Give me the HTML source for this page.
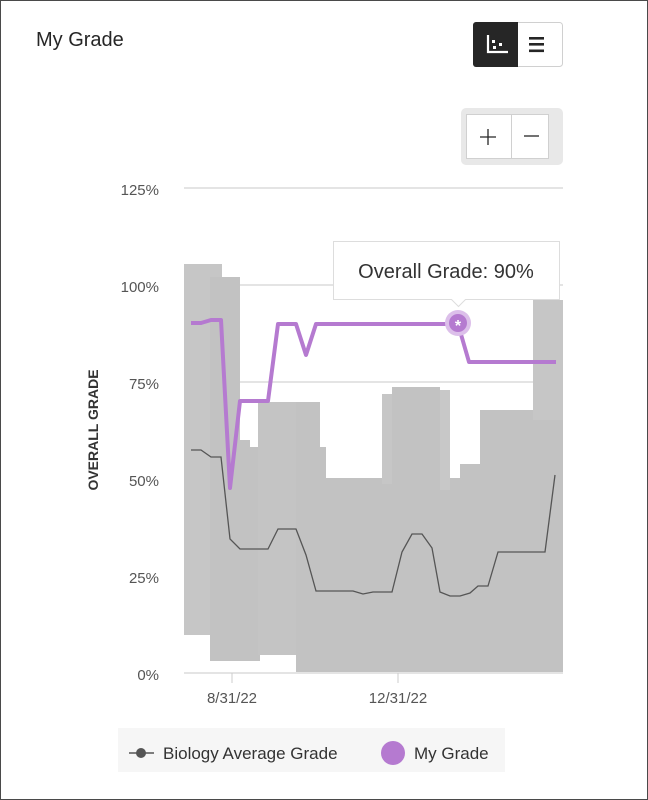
<!DOCTYPE html>
<html><head><style>
html,body{margin:0;padding:0;background:#fff}
body{width:648px;height:800px;position:relative;overflow:hidden;font-family:"Liberation Sans",sans-serif}
.card{position:absolute;left:0;top:0;width:646px;height:798px;border:1px solid #4a4a4a}
</style></head><body>
<div class="card"></div>
<svg width="648" height="800" style="position:absolute;left:0;top:0" font-family="Liberation Sans, sans-serif">
<text x="36" y="46" font-size="20" fill="#262626">My Grade</text>
<!-- toggle -->
<rect x="473.5" y="22.5" width="89" height="44" rx="3" fill="#fff" stroke="#d0d0d0"/>
<path d="M476 22 h42 v45 h-42 a3 3 0 0 1 -3 -3 v-39 a3 3 0 0 1 3 -3z" fill="#262626"/>
<path d="M488 35 v17 h20" stroke="#fff" stroke-width="2.2" fill="none"/>
<rect x="492" y="40" width="3" height="3" fill="#fff"/><rect x="499" y="43" width="3" height="3" fill="#fff"/><rect x="493" y="46" width="3" height="3" fill="#fff"/>
<rect x="529" y="37" width="15" height="2.6" fill="#262626"/><rect x="529" y="43" width="15" height="2.6" fill="#262626"/><rect x="529" y="49.5" width="15" height="2.6" fill="#262626"/>
<!-- zoom -->
<rect x="461" y="108" width="102" height="57" rx="5" fill="#e8e8e8"/>
<rect x="466.5" y="114.5" width="82" height="44" fill="#fff" stroke="#d0d0d0"/>
<rect x="511" y="114" width="1" height="45" fill="#d0d0d0"/>
<path d="M480 137h16M488 129v16" stroke="#262626" stroke-width="1.3"/>
<path d="M524 136h15" stroke="#262626" stroke-width="1.3"/>
<!-- y axis labels -->
<g font-size="15" fill="#555" text-anchor="end">
<text x="159" y="195">125%</text><text x="159" y="292">100%</text><text x="159" y="389">75%</text>
<text x="159" y="486">50%</text><text x="159" y="583">25%</text><text x="159" y="680">0%</text>
</g>
<text transform="translate(98,430) rotate(-90)" font-size="14" font-weight="bold" fill="#333" text-anchor="middle">OVERALL GRADE</text>
<!-- grid -->
<g stroke="#d4d4d4" stroke-width="1.3">
<line x1="184" y1="188" x2="563" y2="188"/><line x1="184" y1="285" x2="563" y2="285"/>
<line x1="184" y1="382" x2="563" y2="382"/><line x1="184" y1="479" x2="563" y2="479"/>
<line x1="184" y1="576" x2="563" y2="576"/>
</g>
<!-- gray bands -->
<g fill="#c2c2c2">
<rect x="184" y="264" width="38" height="371" fill="#c6c6c6"/>
<rect x="210" y="277" width="30" height="384"/>
<rect x="222" y="440" width="28" height="221"/>
<rect x="240" y="447" width="20" height="214"/>
<rect x="258" y="402" width="42" height="253" fill="#c4c4c4"/>
<rect x="296" y="402" width="24" height="270"/>
<rect x="300" y="447" width="26" height="225"/>
<rect x="326" y="478" width="237" height="194"/>
<rect x="382" y="394" width="12" height="90" fill="#c6c6c6"/>
<rect x="392" y="387" width="48" height="100"/>
<rect x="440" y="390" width="10" height="100" fill="#c8c8c8"/>
<rect x="460" y="464" width="30" height="30"/>
<rect x="480" y="410" width="83" height="80"/>
<rect x="533" y="300" width="30" height="120" fill="#c6c6c6"/>
<rect x="184" y="630" width="26" height="5" fill="#c6c6c6"/>
</g>
<!-- axis -->
<line x1="184" y1="673" x2="563" y2="673" stroke="#d4d4d4" stroke-width="1.3"/>
<line x1="232" y1="673" x2="232" y2="683" stroke="#ccc"/>
<line x1="398" y1="673" x2="398" y2="683" stroke="#ccc"/>
<g font-size="15" fill="#555" text-anchor="middle"><text x="232" y="703">8/31/22</text><text x="398" y="703">12/31/22</text></g>
<!-- average line -->
<polyline fill="none" stroke="#555" stroke-width="1.3" points="191,450 201,450 211,457 221,457 230,539 240,549 268,549 278,529 296,529 306,555 316,591 353,591 363,594 373,592 392,592 402,552 412,534 422,534 432,548 440,592 450,596 460,596 470,593 478,586 488,586 498,552 545,552 555,475"/>
<!-- my grade -->
<polyline fill="none" stroke="#b57ad0" stroke-width="4" stroke-linejoin="round" points="191,323 201,323 211,320 221,320 230,488 240,401 268,401 278,324 296,324 306,355 316,324 447,324 458,324 469,362 556,362"/>
<circle cx="458" cy="323" r="13" fill="#dcbfea"/>
<circle cx="458" cy="323" r="9" fill="#b57ad0"/>
<text x="458" y="331" font-size="16" font-weight="bold" fill="#fff" text-anchor="middle">*</text>
<!-- tooltip -->
<path d="M333.5 241.5 h226 v58 h-94 l-7 7 l-7 -7 h-118z" fill="#fff" stroke="#ddd"/>
<text x="446" y="278" font-size="20" fill="#333" text-anchor="middle">Overall Grade: 90%</text>
<!-- legend -->
<rect x="118" y="728" width="387" height="44" fill="#f6f6f6"/>
<line x1="129" y1="753" x2="154" y2="753" stroke="#555" stroke-width="1.5"/>
<circle cx="141" cy="753" r="5" fill="#555"/>
<text x="163" y="759" font-size="17" fill="#333">Biology Average Grade</text>
<circle cx="393" cy="753" r="12" fill="#b57ad0"/>
<text x="414" y="759" font-size="17" fill="#333">My Grade</text>
</svg>
</body></html>
